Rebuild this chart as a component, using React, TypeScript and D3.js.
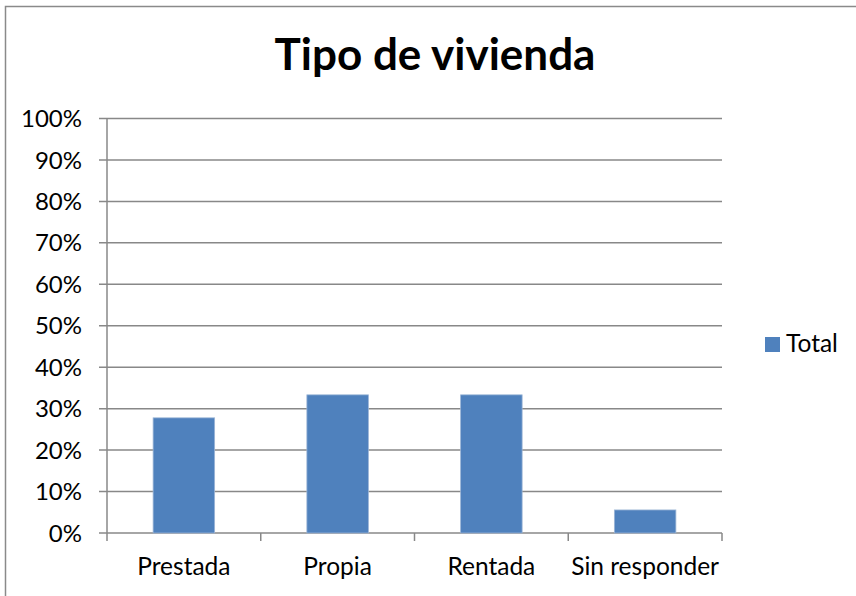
import React from "react";
import * as d3 from "d3";

const categories = ["Prestada", "Propia", "Rentada", "Sin responder"];
const totals = [0.2778, 0.3333, 0.3333, 0.0556];
const yTicks = [0, 0.1, 0.2, 0.3, 0.4, 0.5, 0.6, 0.7, 0.8, 0.9, 1.0];
const seriesName = "Total";
const titleText = "Tipo de vivienda";

const W = 856;
const H = 596;
const plotLeft = 107;
const plotRight = 722;
const plotTop = 118.5;
const plotBottom = 533;
const barColor = "#4F81BD";
const gridColor = "#888888";
const font = "Lato, 'Open Sans', sans-serif";

export default function App() {
  const x = d3
    .scaleBand<string>()
    .domain(categories)
    .range([plotLeft, plotRight])
    .paddingInner(0)
    .paddingOuter(0);
  const y = d3.scaleLinear().domain([0, 1]).range([plotBottom, plotTop]);
  const fmt = d3.format(".0%");
  const bw = x.bandwidth() * 0.4;

  const boundaries = categories.map((c) => x(c) as number).concat([plotRight]);

  return (
    <svg
      width={W}
      height={H}
      style={{ position: "absolute", left: 0, top: 0, background: "#fff" }}
      fontFamily={font}
    >
      <rect x={0} y={0} width={W} height={H} fill="#fff" />
      <rect x={5.5} y={6.5} width={W + 20} height={H + 20} fill="none" stroke="#8a8a8a" strokeWidth={1.5} />
      <text x={435} y={70} textAnchor="middle" fontSize={44} fontWeight={700} fill="#000">
        {titleText}
      </text>
      {yTicks.map((t) => (
        <g key={t}>
          <line x1={plotLeft - 8} x2={plotRight} y1={y(t)} y2={y(t)} stroke={gridColor} strokeWidth={1.5} />
          <text x={82} y={y(t)} dy="0.36em" textAnchor="end" fontSize={24} fill="#000">
            {fmt(t)}
          </text>
        </g>
      ))}
      <line x1={plotLeft} x2={plotLeft} y1={plotTop} y2={plotBottom} stroke={gridColor} strokeWidth={1.5} />
      {boundaries.map((b, i) => (
        <line key={i} x1={b} x2={b} y1={plotBottom} y2={plotBottom + 8} stroke={gridColor} strokeWidth={1.5} />
      ))}
      {categories.map((c, i) => {
        const cx = (x(c) as number) + x.bandwidth() / 2;
        return (
          <g key={c}>
            <rect
              x={cx - bw / 2}
              y={y(totals[i])}
              width={bw}
              height={plotBottom - y(totals[i])}
              fill={barColor}
              stroke="#9bb5d6"
              strokeWidth={0.8}
            />
            <text x={cx} y={575} textAnchor="middle" fontSize={24.5} fill="#000">
              {c}
            </text>
          </g>
        );
      })}
      <rect x={765} y={337} width={15} height={15} fill={barColor} />
      <text x={786} y={352} fontSize={24.5} fill="#000">
        {seriesName}
      </text>
    </svg>
  );
}
